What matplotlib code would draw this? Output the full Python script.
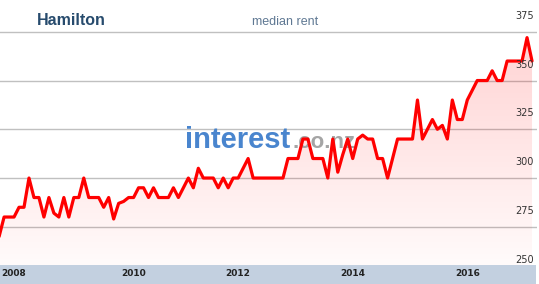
import numpy as np
import matplotlib
matplotlib.use("Agg")
import matplotlib.pyplot as plt
import matplotlib.transforms as mtransforms
from matplotlib.patches import Rectangle

# ---- data (monthly median rent, ordinal x-axis) ----
rent = [270, 280, 280, 280, 285, 285, 300, 290, 290, 280,
        290, 282, 280, 290, 280, 290, 290, 300, 290, 290,
        290, 285, 290, 279, 287, 288, 290, 290, 295, 295,
        290, 295, 290, 290, 290, 295, 290, 295, 300, 295,
        305, 300, 300, 300, 295, 300, 295, 300, 300, 305,
        310, 300, 300, 300, 300, 300, 300, 300, 310, 310,
        310, 320, 320, 310, 310, 310, 300, 320, 303, 312,
        320, 310, 320, 322, 320, 320, 310, 310, 300, 310,
        320, 320, 320, 320, 340, 320, 325, 330, 325, 327,
        320, 340, 330, 330, 340, 345, 350, 350, 350, 355,
        350, 350, 360, 360, 360, 360, 372, 360]
year_labels = ["2008", "2010", "2012", "2014", "2016"]
year_index = [3, 27, 48, 71, 94]
y_grid = [275, 300, 325, 350, 375]
y_labels = [250, 275, 300, 325, 350, 375]
title = "Hamilton"
subtitle = "median rent"

W, H = 539, 284
fig = plt.figure(figsize=(W / 100, H / 100), dpi=100)
fig.patch.set_facecolor("white")

# x band at the bottom
fig.patches.append(Rectangle((0, 0), 536 / W, 19 / H, transform=fig.transFigure,
                             facecolor="#c3d0e0", edgecolor="none", zorder=-5))

ax = fig.add_axes([0, 19 / H, 537 / W, 265 / H])
ax.set_zorder(1)
ax.set_facecolor("none")
for s in ax.spines.values():
    s.set_visible(False)

x = np.arange(len(rent))
ybot, ytop = 255.4, 391.3

# grid
ax.set_yticks(y_grid)
ax.yaxis.grid(True, color="#c0c0c0", linewidth=1.0)
ax.tick_params(axis="y", length=0, labelleft=False)
ax.set_axisbelow(True)

# x ticks
ax.set_xticks(year_index)
ax.set_xticklabels(year_labels, fontsize=6.5, fontweight="bold", color="#222222",
                   family="DejaVu Sans")
ax.tick_params(axis="x", length=0, pad=3.2)

# y labels (drawn above their gridlines)
ytrans = mtransforms.blended_transform_factory(ax.transAxes, ax.transData)
ytrans = mtransforms.offset_copy(ytrans, fig=fig, y=16, units="dots")
for v in y_labels:
    ax.text(534 / 537, v, str(v), transform=ytrans, ha="right", va="center",
            fontsize=7, color="#333333", family="DejaVu Sans", zorder=5)

# gradient fill under the line
poly = ax.fill_between(x, rent, ybot, facecolor="none", edgecolor="none")
grad = np.zeros((256, 1, 4))
grad[..., 0] = 1.0
grad[:, 0, 3] = np.linspace(0.2, 0.02, 256)
img = ax.imshow(grad, aspect="auto", extent=[0, 108, ybot, ytop], origin="upper",
                zorder=1, interpolation="bilinear")
img.set_clip_path(poly.get_paths()[0], transform=ax.transData)
ax.set_xlim(0.18, 108.0)
ax.set_ylim(ybot, ytop)

# watermark
ax.text(185 / 537, (284 - 148 - 19) / 265, "interest", transform=ax.transAxes,
        fontsize=21, fontweight="bold", color="#3f7fcc", alpha=0.95,
        family="Liberation Sans", ha="left", va="baseline", zorder=2)
ax.text(293 / 537, (284 - 148 - 19) / 265, ".co.nz", transform=ax.transAxes,
        fontsize=16, fontweight="bold", color="#a0a0a0", alpha=0.95,
        family="Liberation Sans", ha="left", va="baseline", zorder=2)

# line
ax.plot(x, rent, color="#ff0000", linewidth=2.3, solid_joinstyle="round",
        solid_capstyle="round", zorder=4)

# titles
fig.text(37 / W, (H - 25) / H, title, fontsize=11.5, fontweight="bold",
         color="#274b6d", family="Liberation Sans", ha="left", va="baseline")
fig.text(285 / W, (H - 25) / H, subtitle, fontsize=9, color="#5f7893",
         family="Liberation Sans", ha="center", va="baseline")

fig.savefig("out.png", dpi=100)
